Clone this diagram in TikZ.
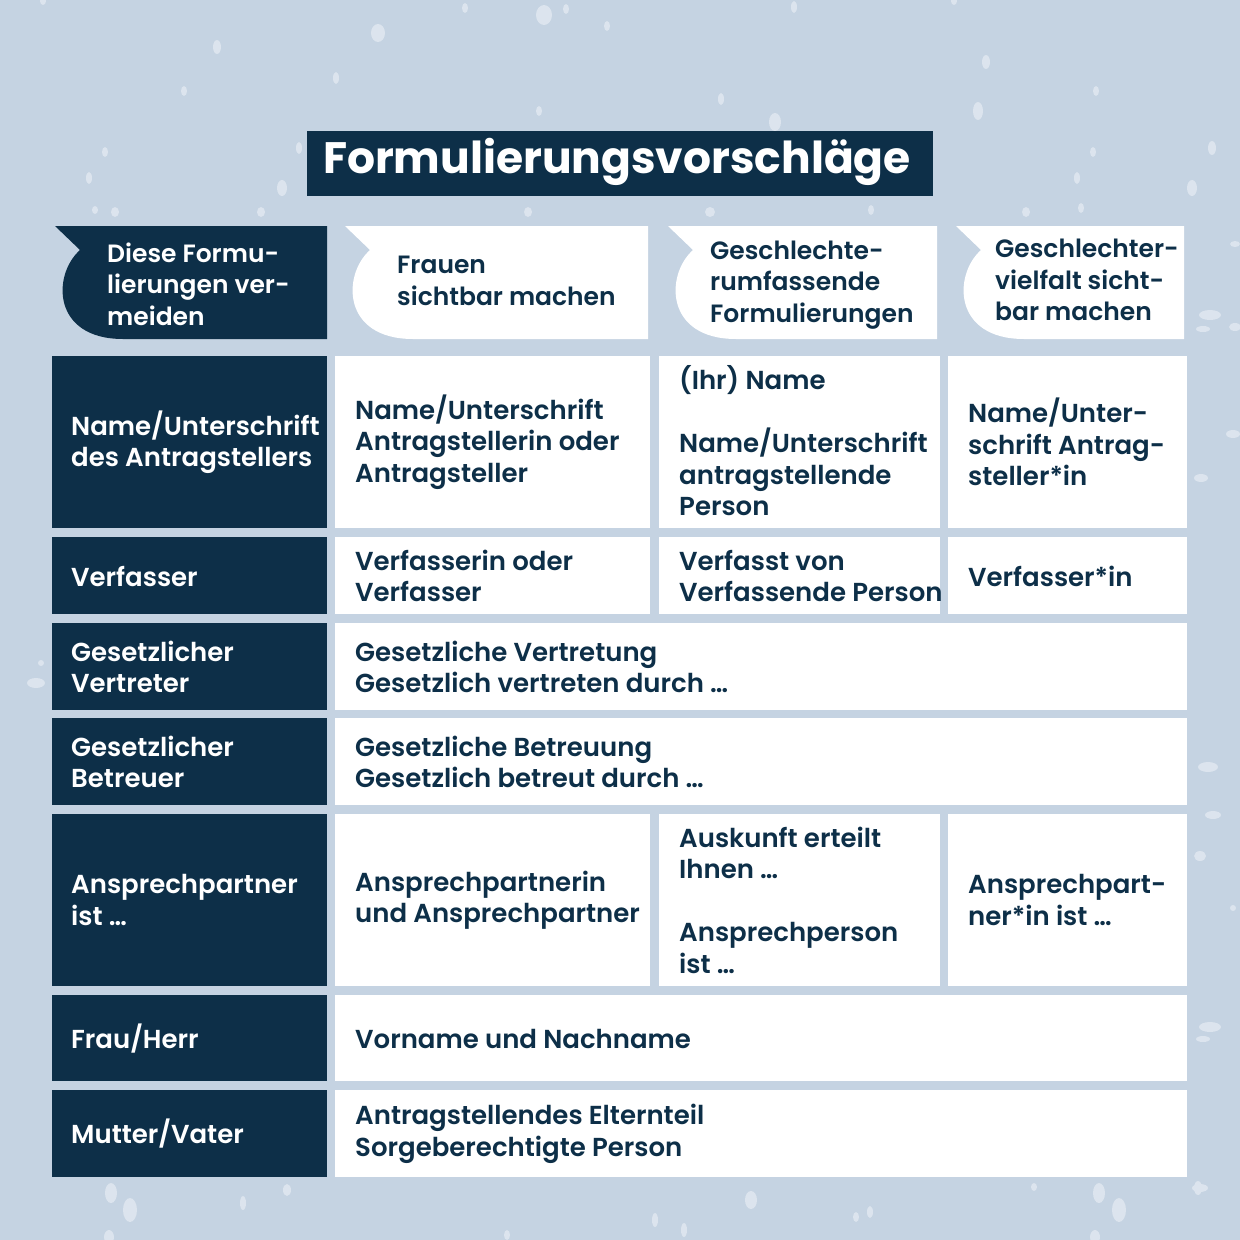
\documentclass[tikz,border=0pt]{standalone}
\usepackage{fontspec}
\setmainfont{Poppins}[UprightFont=* SemiBold, BoldFont=* Bold]
\definecolor{bgc}{HTML}{C5D3E2}
\definecolor{dotc}{HTML}{DCE4EE}
\definecolor{navy}{HTML}{0D2F48}
\newcommand\hdrshape[3]{%
  \fill[#3] (#1,226) -- (#1+25,250) .. controls (#1-3,275) and (#1-3,339) .. (#1+68,339) -- (#2,339) -- (#2,226) -- cycle;}
\begin{document}
\begin{tikzpicture}[x=1pt,y=-1pt,
  txt/.style={anchor=west, inner sep=0pt, align=left, font=\fontsize{26}{31.5}\selectfont, text=navy},
  wtxt/.style={txt, text=white},
  htxt/.style={txt, font=\fontsize{25}{31.5}\selectfont},
  dot/.style={fill=dotc}]
\fill[bgc] (0,0) rectangle (1240,1240);
\useasboundingbox (0,0) rectangle (1240,1240);
% speckles
\foreach \x/\y/\a/\b in {465/8/3/5, 544/15/8/10, 566/9/3/5, 607/26/3/5, 794/7/3/6, 954/1/3/4, 43/1/3/4,
  378/33/7/9, 217/47/4/7, 986/62/4/7, 336/78/3/6, 184/91/3/5, 539/111/3/5, 721/99/3/6, 775/122/6/9,
  978/111/5/9, 1096/91/3/5, 105/152/3/5, 89/178/3/6, 299/148/3/6, 282/188/5/8, 1093/152/3/5,
  1077/178/3/6, 1212/148/4/7, 1192/188/5/8, 95/210/3/4, 115/212/4/5, 261/212/4/5, 528/212/4/5,
  710/212/5/5, 871/210/3/5, 1026/212/4/5, 1081/208/3/5,
  41/663/3/3, 36/683/9/5, 1235/244/5/3, 1210/315/11/5, 1203/329/7/3, 1235/327/6/4, 1233/434/7/4,
  1201/478/7/4, 1208/767/10/5, 1213/815/8/4, 1200/856/6/5, 1233/908/3/3, 1210/1027/11/5,
  1203/1039/7/3, 1200/1188/8/4,
  111/1193/6/10, 130/1210/7/12, 243/1203/3/7, 287/1190/4/6, 109/1237/5/7, 751/1200/6/9,
  655/1220/3/7, 684/1230/3/7, 507/1235/3/5, 870/1212/3/6, 856/1217/3/5, 1099/1193/6/10,
  1119/1210/7/12, 1095/1237/5/7, 1198/1188/4/7, 1034/1187/3/4}
  {\fill[dot] (\x,\y) ellipse [x radius=\a, y radius=\b];}
% title
\fill[navy] (307,131) rectangle (933,196);
\node[inner sep=0pt, text=white, font=\fontsize{44}{50}\bfseries\selectfont] (title) at (617,162) {Formulierungsvorschläge};
% headers
\hdrshape{55}{327}{navy}
\hdrshape{345}{648}{white}
\hdrshape{668}{937}{white}
\hdrshape{956}{1184}{white}
\node[htxt, text=white] (h1) at (107,284) {Diese Formu-\\lierungen ver-\\meiden};
\node[htxt] (h2) at (397,281) {Frauen\\sichtbar machen};
\node[htxt] (h3) at (710,285) {Geschlechte-\\rumfassende\\Formulierungen};
\node[htxt] (h4) at (995,280) {Geschlechter-\\vielfalt sicht-\\bar machen};
% left column cells
\foreach \t/\b in {356/528, 537/614, 623/710, 718/805, 814/986, 995/1081, 1090/1177}
  {\fill[navy] (52,\t) rectangle (327,\b);}
% rows with four columns
\foreach \t/\b in {356/528, 537/614, 814/986}
  {\fill[white] (335,\t) rectangle (650,\b);
   \fill[white] (659,\t) rectangle (940,\b);
   \fill[white] (948,\t) rectangle (1187,\b);}
% spanning rows
\foreach \t/\b in {623/710, 718/805, 995/1081, 1090/1177}
  {\fill[white] (335,\t) rectangle (1187,\b);}
% row 1
\node[wtxt] (r1a) at (71,442) {Name/Unterschrift\\des Antragstellers};
\node[txt] (r1b) at (355,442) {Name/Unterschrift\\Antragstellerin oder\\Antragsteller};
\node[txt] (r1c) at (679,441) {(Ihr) Name\\[31.5pt]Name/Unterschrift\\antragstellende\\Person};
\node[txt] (r1d) at (968,442) {Name/Unter-\\schrift Antrag-\\steller*in};
% row 2
\node[wtxt] (r2a) at (71,576) {Verfasser};
\node[txt] (r2b) at (355,576) {Verfasserin oder\\Verfasser};
\node[txt] (r2c) at (679,576) {Verfasst von\\Verfassende Person};
\node[txt] (r2d) at (968,576) {Verfasser*in};
% row 3
\node[wtxt] (r3a) at (71,667) {Gesetzlicher\\Vertreter};
\node[txt] (r3b) at (355,667) {Gesetzliche Vertretung\\Gesetzlich vertreten durch …};
% row 4
\node[wtxt] (r4a) at (71,762) {Gesetzlicher\\Betreuer};
\node[txt] (r4b) at (355,762) {Gesetzliche Betreuung\\Gesetzlich betreut durch …};
% row 5
\node[wtxt] (r5a) at (71,900) {Ansprechpartner\\ist …};
\node[txt] (r5b) at (355,900) {Ansprechpartnerin\\und Ansprechpartner};
\node[txt] (r5c) at (679,900) {Auskunft erteilt\\Ihnen …\\[31.5pt]Ansprechperson\\ist …};
\node[txt] (r5d) at (968,900) {Ansprechpart-\\ner*in ist …};
% row 6
\node[wtxt] (r6a) at (71,1039) {Frau/Herr};
\node[txt] (r6b) at (355,1039) {Vorname und Nachname};
% row 7
\node[wtxt] (r7a) at (71,1134) {Mutter/Vater};
\node[txt] (r7b) at (355,1134) {Antragstellendes Elternteil\\Sorgeberechtigte Person};
\end{tikzpicture}
\end{document}
